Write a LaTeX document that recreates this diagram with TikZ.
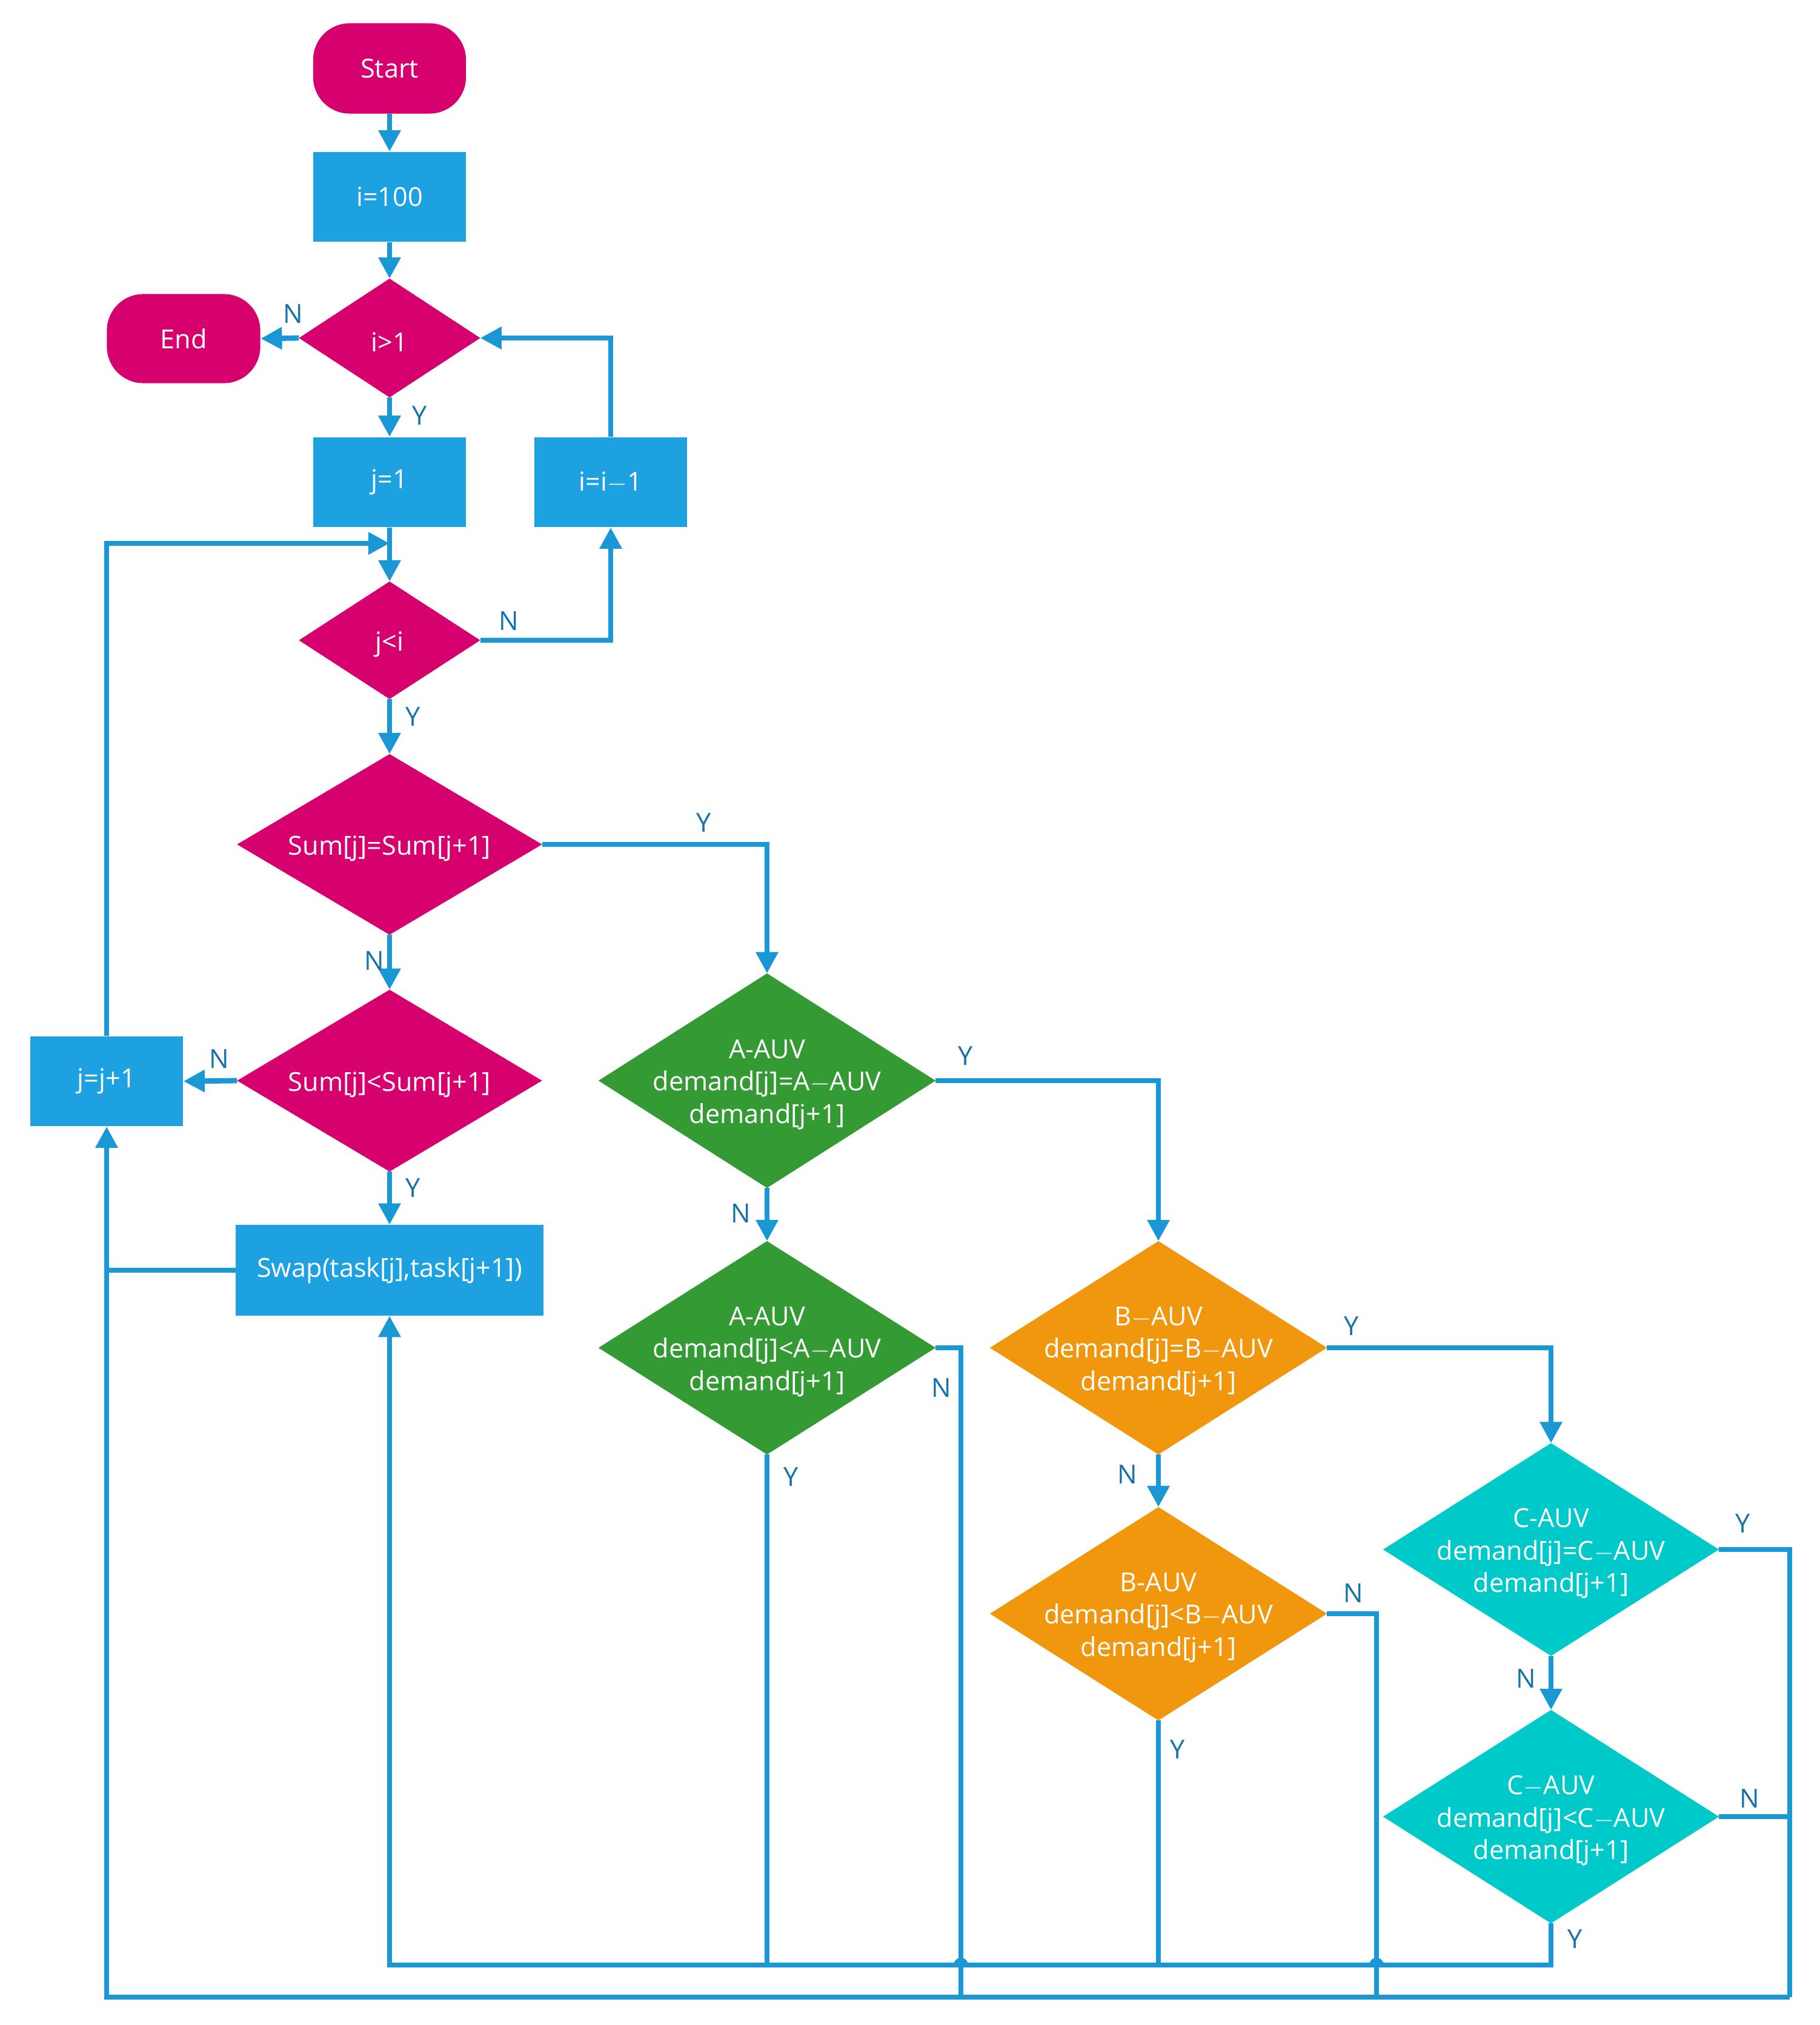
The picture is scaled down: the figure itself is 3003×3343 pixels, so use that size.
\documentclass[tikz,border=0pt]{standalone}
\usepackage{fontspec}
\setmainfont{Open Sans}
\usetikzlibrary{shapes.geometric,arrows.meta}
\definecolor{mag}{HTML}{D6006F}
\definecolor{boxblue}{HTML}{1DA1E1}
\definecolor{lineblue}{HTML}{1A98D5}
\definecolor{grn}{HTML}{349A34}
\definecolor{org}{HTML}{F0970E}
\definecolor{cyn}{HTML}{00C9C9}
\definecolor{lbl}{HTML}{1573AA}
\begin{document}
\begin{tikzpicture}[x=0.01cm,y=-0.01cm,
  every node/.style={font=\fontsize{12.3}{14.8}\selectfont},
  term/.style={rectangle,rounded corners=0.6cm,fill=mag,text=white,minimum width=2.52cm,minimum height=1.49cm,inner sep=0pt},
  proc/.style={rectangle,fill=boxblue,text=white,minimum width=2.52cm,minimum height=1.48cm,inner sep=0pt},
  dec/.style={diamond,inner sep=0pt,outer sep=0pt},
  dtext/.style={label={[text=white,align=center,yshift=-0.065cm,font=\fontsize{12.3}{15.2}\selectfont]center:#1}},
  conn/.style={draw=lineblue,line width=2.5pt},
  arr/.style={conn,-{Triangle[length=10pt,width=10pt]}},
  yn/.style={text=lbl,inner sep=0pt}
]
\useasboundingbox (0,0) rectangle (3003,3343);

% nodes
\node[term] (start) at (643,113) {Start};
\node[proc] (i100) at (643,325) {i=100};
\node[dec,fill=mag,minimum width=2.99cm,minimum height=1.96cm,dtext={i>1}] (d1) at (643,558) {};
\node[term,minimum width=2.53cm,minimum height=1.47cm] (end) at (303,559) {End};
\node[proc] (j1) at (643,796) {j=1};
\node[proc] (im1) at (1008,796) {i=i$-$1};
\node[dec,fill=mag,minimum width=2.99cm,minimum height=1.94cm,dtext={j<i}] (d2) at (643,1057) {};
\node[dec,fill=mag,minimum width=5.03cm,minimum height=2.98cm,dtext={Sum[j]=Sum[j+1]}] (s1) at (643,1394) {};
\node[dec,fill=mag,minimum width=5.03cm,minimum height=3.0cm,dtext={Sum[j]<Sum[j+1]}] (s2) at (643,1784) {};
\node[proc] (jp1) at (176,1785) {j=j+1};
\node[proc,minimum width=5.07cm,minimum height=1.49cm] (swap) at (643,2097) {Swap(task[j],task[j+1])};
\node[dec,fill=grn,minimum width=5.56cm,minimum height=3.54cm,dtext={A-AUV\\demand[j]=A$-$AUV\\demand[j+1]}] (a1) at (1266,1784) {};
\node[dec,fill=grn,minimum width=5.56cm,minimum height=3.52cm,dtext={A-AUV\\demand[j]<A$-$AUV\\demand[j+1]}] (a2) at (1266,2225) {};
\node[dec,fill=org,minimum width=5.56cm,minimum height=3.52cm,dtext={B$-$AUV\\demand[j]=B$-$AUV\\demand[j+1]}] (b1) at (1912,2225) {};
\node[dec,fill=org,minimum width=5.56cm,minimum height=3.52cm,dtext={B-AUV\\demand[j]<B$-$AUV\\demand[j+1]}] (b2) at (1912,2664) {};
\node[dec,fill=cyn,minimum width=5.54cm,minimum height=3.51cm,dtext={C-AUV\\demand[j]=C$-$AUV\\demand[j+1]}] (c1) at (2560,2558) {};
\node[dec,fill=cyn,minimum width=5.54cm,minimum height=3.52cm,dtext={C$-$AUV\\demand[j]<C$-$AUV\\demand[j+1]}] (c2) at (2560,2999) {};

% junction coordinates
\coordinate (loopin) at (643,897);
\coordinate (swj) at (176,2097);
\coordinate (a2b) at (1266,3244);
\coordinate (b2b) at (1912,3244);
\coordinate (c2b) at (2560,3244);
\coordinate (upl) at (643,3244);
\coordinate (a2n) at (1586,3297);
\coordinate (b2n) at (2272,3297);
\coordinate (cr) at (2954,3297);
\coordinate (c2n) at (2954,2999);
\coordinate (lowl) at (176,3297);

% connectors
\draw[arr] (start) -- (i100);
\draw[arr] (i100) -- (d1.north);
\draw[arr] (d1.west) -- (end.east);
\draw[arr] (d1.south) -- (j1.north);
\draw[arr] (im1.north) |- (d1.east);
\draw[arr] (j1.south) -- (d2.north);
\draw[arr] (jp1.north) |- (loopin);
\draw[arr] (d2.east) -| (im1.south);
\draw[arr] (d2.south) -- (s1.north);
\draw[arr] (s1.east) -| (a1.north);
\draw[arr] (s1.south) -- (s2.north);
\draw[arr] (s2.west) -- (jp1.east);
\draw[arr] (s2.south) -- (swap.north);
\draw[conn] (swap.west) -- (swj);
\draw[arr] (a1.east) -| (b1.north);
\draw[arr] (a1.south) -- (a2.north);
\draw[conn] (a2.east) -| (a2n);
\draw[conn] (a2.south) -- (a2b);
\draw[arr] (b1.east) -| (c1.north);
\draw[arr] (b1.south) -- (b2.north);
\draw[conn] (b2.east) -| (b2n);
\draw[conn] (b2.south) -- (b2b);
\draw[conn] (c1.east) -| (cr);
\draw[arr] (c1.south) -- (c2.north);
\draw[conn] (c2.east) -- (c2n);
\draw[arr] (c2.south) |- (upl) -- (swap.south);
\draw[arr] (cr) -- (lowl) -- (jp1.south);
% hops
\fill[lineblue] (1598,3244) arc[start angle=0,end angle=180,radius=0.12cm] -- cycle;
\fill[lineblue] (2284,3244) arc[start angle=0,end angle=180,radius=0.12cm] -- cycle;

% labels
\node[yn] (l1) at (484,518) {N};
\node[yn] (l2) at (693,686) {Y};
\node[yn] (l3) at (840,1025) {N};
\node[yn] (l4) at (682,1183) {Y};
\node[yn] (l5) at (1162,1358) {Y};
\node[yn] (l6) at (618,1586) {N};
\node[yn] (l7) at (362,1748) {N};
\node[yn] (l8) at (682,1961) {Y};
\node[yn] (l9) at (1594,1743) {Y};
\node[yn] (l10) at (1223,2003) {N};
\node[yn] (l11) at (1554,2291) {N};
\node[yn] (l12) at (1306,2438) {Y};
\node[yn] (l13) at (2231,2189) {Y};
\node[yn] (l14) at (1861,2434) {N};
\node[yn] (l15) at (2234,2630) {N};
\node[yn] (l16) at (1944,2888) {Y};
\node[yn] (l17) at (2877,2515) {Y};
\node[yn] (l18) at (2519,2771) {N};
\node[yn] (l19) at (2888,2969) {N};
\node[yn] (l20) at (2600,3201) {Y};
\end{tikzpicture}
\end{document}
